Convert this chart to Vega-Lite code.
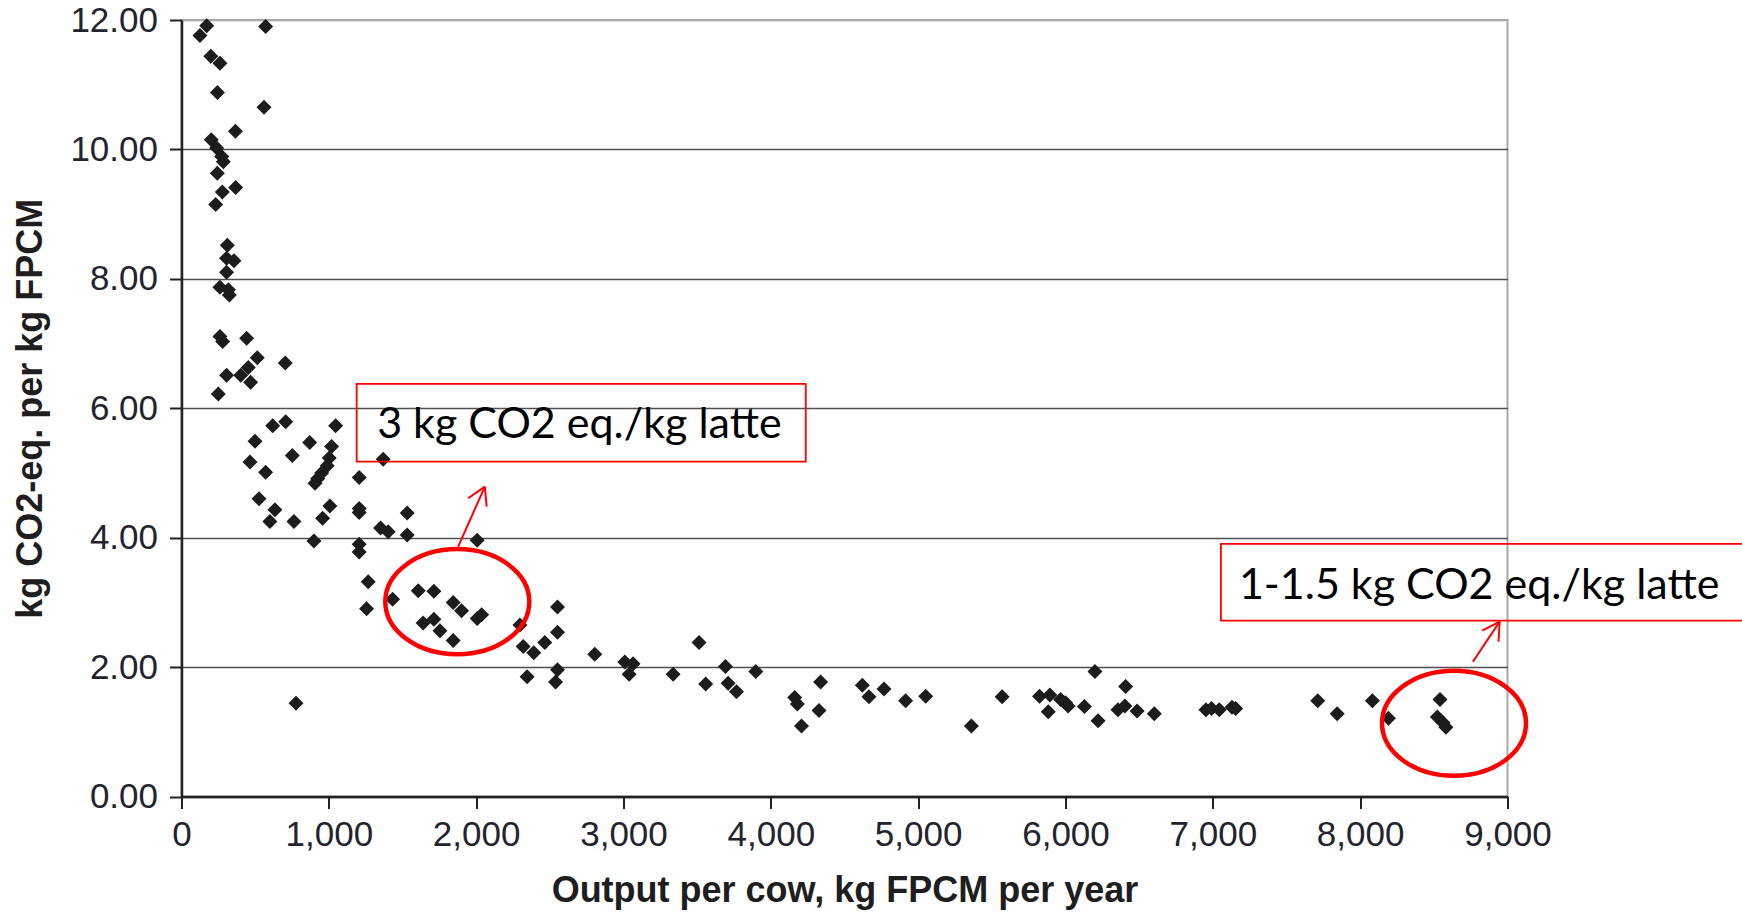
{
  "$schema": "https://vega.github.io/schema/vega-lite/v6.json",
  "autosize": {"type": "none"},
  "width": 1326,
  "height": 776.5,
  "padding": {"left": 181.5, "top": 20, "right": 234.5, "bottom": 116.5},
  "background": "white",
  "config": {
    "view": {"stroke": "#a9a9a9", "strokeWidth": 2},
    "axis": {
      "labelFont": "Liberation Sans",
      "labelFontSize": 35,
      "labelColor": "#23232e",
      "titleFont": "Liberation Sans",
      "titleFontSize": 36,
      "titleFontWeight": "bold",
      "titleColor": "#1e1e1e",
      "domainColor": "#222222",
      "domainWidth": 2.5,
      "tickColor": "#222222",
      "tickWidth": 2,
      "tickSize": 12
    }
  },
  "datasets": {
    "pts": [
      {"x": 171, "y": 11.91}, {"x": 125, "y": 11.76}, {"x": 571, "y": 11.90}, {"x": 199, "y": 11.44},
      {"x": 261, "y": 11.33}, {"x": 244, "y": 10.88}, {"x": 560, "y": 10.65}, {"x": 366, "y": 10.28},
      {"x": 202, "y": 10.15}, {"x": 239, "y": 10.02}, {"x": 273, "y": 9.89}, {"x": 284, "y": 9.81},
      {"x": 243, "y": 9.63}, {"x": 368, "y": 9.41}, {"x": 277, "y": 9.34}, {"x": 232, "y": 9.15},
      {"x": 311, "y": 8.52}, {"x": 306, "y": 8.32}, {"x": 356, "y": 8.28}, {"x": 306, "y": 8.10},
      {"x": 261, "y": 7.87}, {"x": 318, "y": 7.83}, {"x": 325, "y": 7.75}, {"x": 261, "y": 7.11},
      {"x": 279, "y": 7.03}, {"x": 442, "y": 7.08}, {"x": 514, "y": 6.78}, {"x": 704, "y": 6.70},
      {"x": 453, "y": 6.63}, {"x": 402, "y": 6.51}, {"x": 306, "y": 6.51}, {"x": 469, "y": 6.40},
      {"x": 250, "y": 6.22},
      {"x": 619, "y": 5.73}, {"x": 707, "y": 5.79}, {"x": 1046, "y": 5.73}, {"x": 499, "y": 5.49},
      {"x": 870, "y": 5.47}, {"x": 752, "y": 5.27}, {"x": 1019, "y": 5.41}, {"x": 1003, "y": 5.23},
      {"x": 989, "y": 5.11}, {"x": 951, "y": 5.00}, {"x": 924, "y": 4.91}, {"x": 906, "y": 4.84},
      {"x": 1369, "y": 5.21}, {"x": 465, "y": 5.17}, {"x": 571, "y": 5.01}, {"x": 1206, "y": 4.93},
      {"x": 526, "y": 4.60}, {"x": 634, "y": 4.43}, {"x": 600, "y": 4.25}, {"x": 763, "y": 4.25},
      {"x": 1007, "y": 4.49}, {"x": 958, "y": 4.30}, {"x": 1206, "y": 4.45}, {"x": 1206, "y": 4.39},
      {"x": 1532, "y": 4.38}, {"x": 899, "y": 3.95}, {"x": 1351, "y": 4.15}, {"x": 1403, "y": 4.09},
      {"x": 1532, "y": 4.04}, {"x": 2007, "y": 3.96}, {"x": 1206, "y": 3.90}, {"x": 1206, "y": 3.78},
      {"x": 1267, "y": 3.32}, {"x": 1256, "y": 2.90}, {"x": 1433, "y": 3.05}, {"x": 1607, "y": 3.18},
      {"x": 1713, "y": 3.17}, {"x": 1844, "y": 3.00}, {"x": 1901, "y": 2.87}, {"x": 1640, "y": 2.68},
      {"x": 1713, "y": 2.74}, {"x": 1754, "y": 2.56}, {"x": 1844, "y": 2.41}, {"x": 2007, "y": 2.75},
      {"x": 2037, "y": 2.81}, {"x": 2297, "y": 2.65}, {"x": 2319, "y": 2.32}, {"x": 2391, "y": 2.22},
      {"x": 2466, "y": 2.38}, {"x": 2552, "y": 2.93}, {"x": 2552, "y": 2.54}, {"x": 2346, "y": 1.85},
      {"x": 2552, "y": 1.96}, {"x": 2539, "y": 1.77}, {"x": 777, "y": 1.44},
      {"x": 2805, "y": 2.20}, {"x": 3009, "y": 2.08}, {"x": 3065, "y": 2.05}, {"x": 3038, "y": 1.89},
      {"x": 3337, "y": 1.89}, {"x": 3513, "y": 2.38}, {"x": 3558, "y": 1.74}, {"x": 3692, "y": 2.01},
      {"x": 3710, "y": 1.75}, {"x": 3767, "y": 1.62}, {"x": 3898, "y": 1.93}, {"x": 4162, "y": 1.53},
      {"x": 4180, "y": 1.43}, {"x": 4208, "y": 1.09}, {"x": 4338, "y": 1.77}, {"x": 4327, "y": 1.33},
      {"x": 4621, "y": 1.72}, {"x": 4666, "y": 1.54}, {"x": 4768, "y": 1.66}, {"x": 4915, "y": 1.48},
      {"x": 5051, "y": 1.55}, {"x": 5361, "y": 1.09}, {"x": 5570, "y": 1.54},
      {"x": 5824, "y": 1.55}, {"x": 5894, "y": 1.57}, {"x": 5883, "y": 1.31}, {"x": 5967, "y": 1.50},
      {"x": 6000, "y": 1.45}, {"x": 6018, "y": 1.40}, {"x": 6128, "y": 1.39}, {"x": 6200, "y": 1.93},
      {"x": 6221, "y": 1.17}, {"x": 6408, "y": 1.70}, {"x": 6356, "y": 1.34}, {"x": 6403, "y": 1.40},
      {"x": 6486, "y": 1.32}, {"x": 6603, "y": 1.28}, {"x": 6953, "y": 1.34}, {"x": 6991, "y": 1.36},
      {"x": 7044, "y": 1.34}, {"x": 7130, "y": 1.38}, {"x": 7155, "y": 1.36}, {"x": 7712, "y": 1.48},
      {"x": 7844, "y": 1.28}, {"x": 8083, "y": 1.48}, {"x": 8192, "y": 1.21}, {"x": 8542, "y": 1.50},
      {"x": 8524, "y": 1.23}, {"x": 8563, "y": 1.14}, {"x": 8582, "y": 1.07}
    ],
    "boxes": [
      {"x": 1189, "x2": 4237, "y": 6.376, "y2": 5.175},
      {"x": 7055, "x2": 10700, "y": 3.903, "y2": 2.717}
    ],
    "notes": [
      {"x": 1328, "y": 5.536, "label": "3 kg CO2 eq./kg latte"},
      {"x": 7177, "y": 3.048, "label": "1-1.5 kg CO2 eq./kg latte"}
    ],
    "rings": [
      {"x": 1872, "y": 3.011},
      {"x": 8637, "y": 1.131}
    ],
    "arrows": [
      {"x": 1878, "y": 3.861, "x2": 2059, "y2": 4.788},
      {"x": 1946, "y": 4.609, "x2": 2059, "y2": 4.788},
      {"x": 2071, "y": 4.479, "x2": 2059, "y2": 4.788},
      {"x": 8765, "y": 2.083, "x2": 8947, "y2": 2.702},
      {"x": 8828, "y": 2.563, "x2": 8947, "y2": 2.702},
      {"x": 8939, "y": 2.392, "x2": 8947, "y2": 2.702}
    ]
  },
  "layer": [
    {
      "data": {"name": "pts"},
      "mark": {"type": "point", "shape": "diamond", "filled": true, "size": 225, "color": "#1c1c1c", "opacity": 1},
      "encoding": {
        "x": {
          "field": "x",
          "type": "quantitative",
          "scale": {"domain": [0, 9000], "nice": false, "zero": false},
          "axis": {
            "values": [0, 1000, 2000, 3000, 4000, 5000, 6000, 7000, 8000, 9000],
            "format": ",d",
            "grid": false,
            "labelFlush": false,
            "labelPadding": 9,
            "title": "Output per cow, kg FPCM per year",
            "titleBaseline": "alphabetic",
            "titleY": 105
          }
        },
        "y": {
          "field": "y",
          "type": "quantitative",
          "scale": {"domain": [0, 12], "nice": false, "zero": false},
          "axis": {
            "values": [0, 2, 4, 6, 8, 10, 12],
            "format": ".2f",
            "grid": true,
            "gridColor": {"condition": {"test": "datum.value === 12", "value": "#a9a9a9"}, "value": "#505050"},
            "gridWidth": 1.5,
            "labelPadding": 12,
            "title": "kg CO2-eq. per kg FPCM",
            "titleBaseline": "alphabetic",
            "titleX": -140
          }
        }
      }
    },
    {
      "data": {"name": "boxes"},
      "mark": {"type": "rect", "fill": null, "fillOpacity": 0, "stroke": "#ff0000", "strokeWidth": 1.8},
      "encoding": {
        "x": {"field": "x", "type": "quantitative"},
        "x2": {"field": "x2"},
        "y": {"field": "y", "type": "quantitative"},
        "y2": {"field": "y2"}
      }
    },
    {
      "data": {"name": "notes"},
      "mark": {"type": "text", "align": "left", "baseline": "alphabetic", "font": "Lato", "fontSize": 43, "color": "#000000"},
      "encoding": {
        "x": {"field": "x", "type": "quantitative"},
        "y": {"field": "y", "type": "quantitative"},
        "text": {"field": "label"}
      }
    },
    {
      "data": {"name": "rings"},
      "mark": {"type": "point", "shape": "M-1,0A1,0.73,0,1,0,1,0A1,0.73,0,1,0,-1,0Z", "filled": false, "size": 20736, "color": "#ff0000", "strokeWidth": 4.5, "opacity": 1},
      "encoding": {
        "x": {"field": "x", "type": "quantitative"},
        "y": {"field": "y", "type": "quantitative"}
      }
    },
    {
      "data": {"name": "arrows"},
      "mark": {"type": "rule", "color": "#ff0000", "strokeWidth": 2},
      "encoding": {
        "x": {"field": "x", "type": "quantitative"},
        "y": {"field": "y", "type": "quantitative"},
        "x2": {"field": "x2"},
        "y2": {"field": "y2"}
      }
    }
  ]
}
